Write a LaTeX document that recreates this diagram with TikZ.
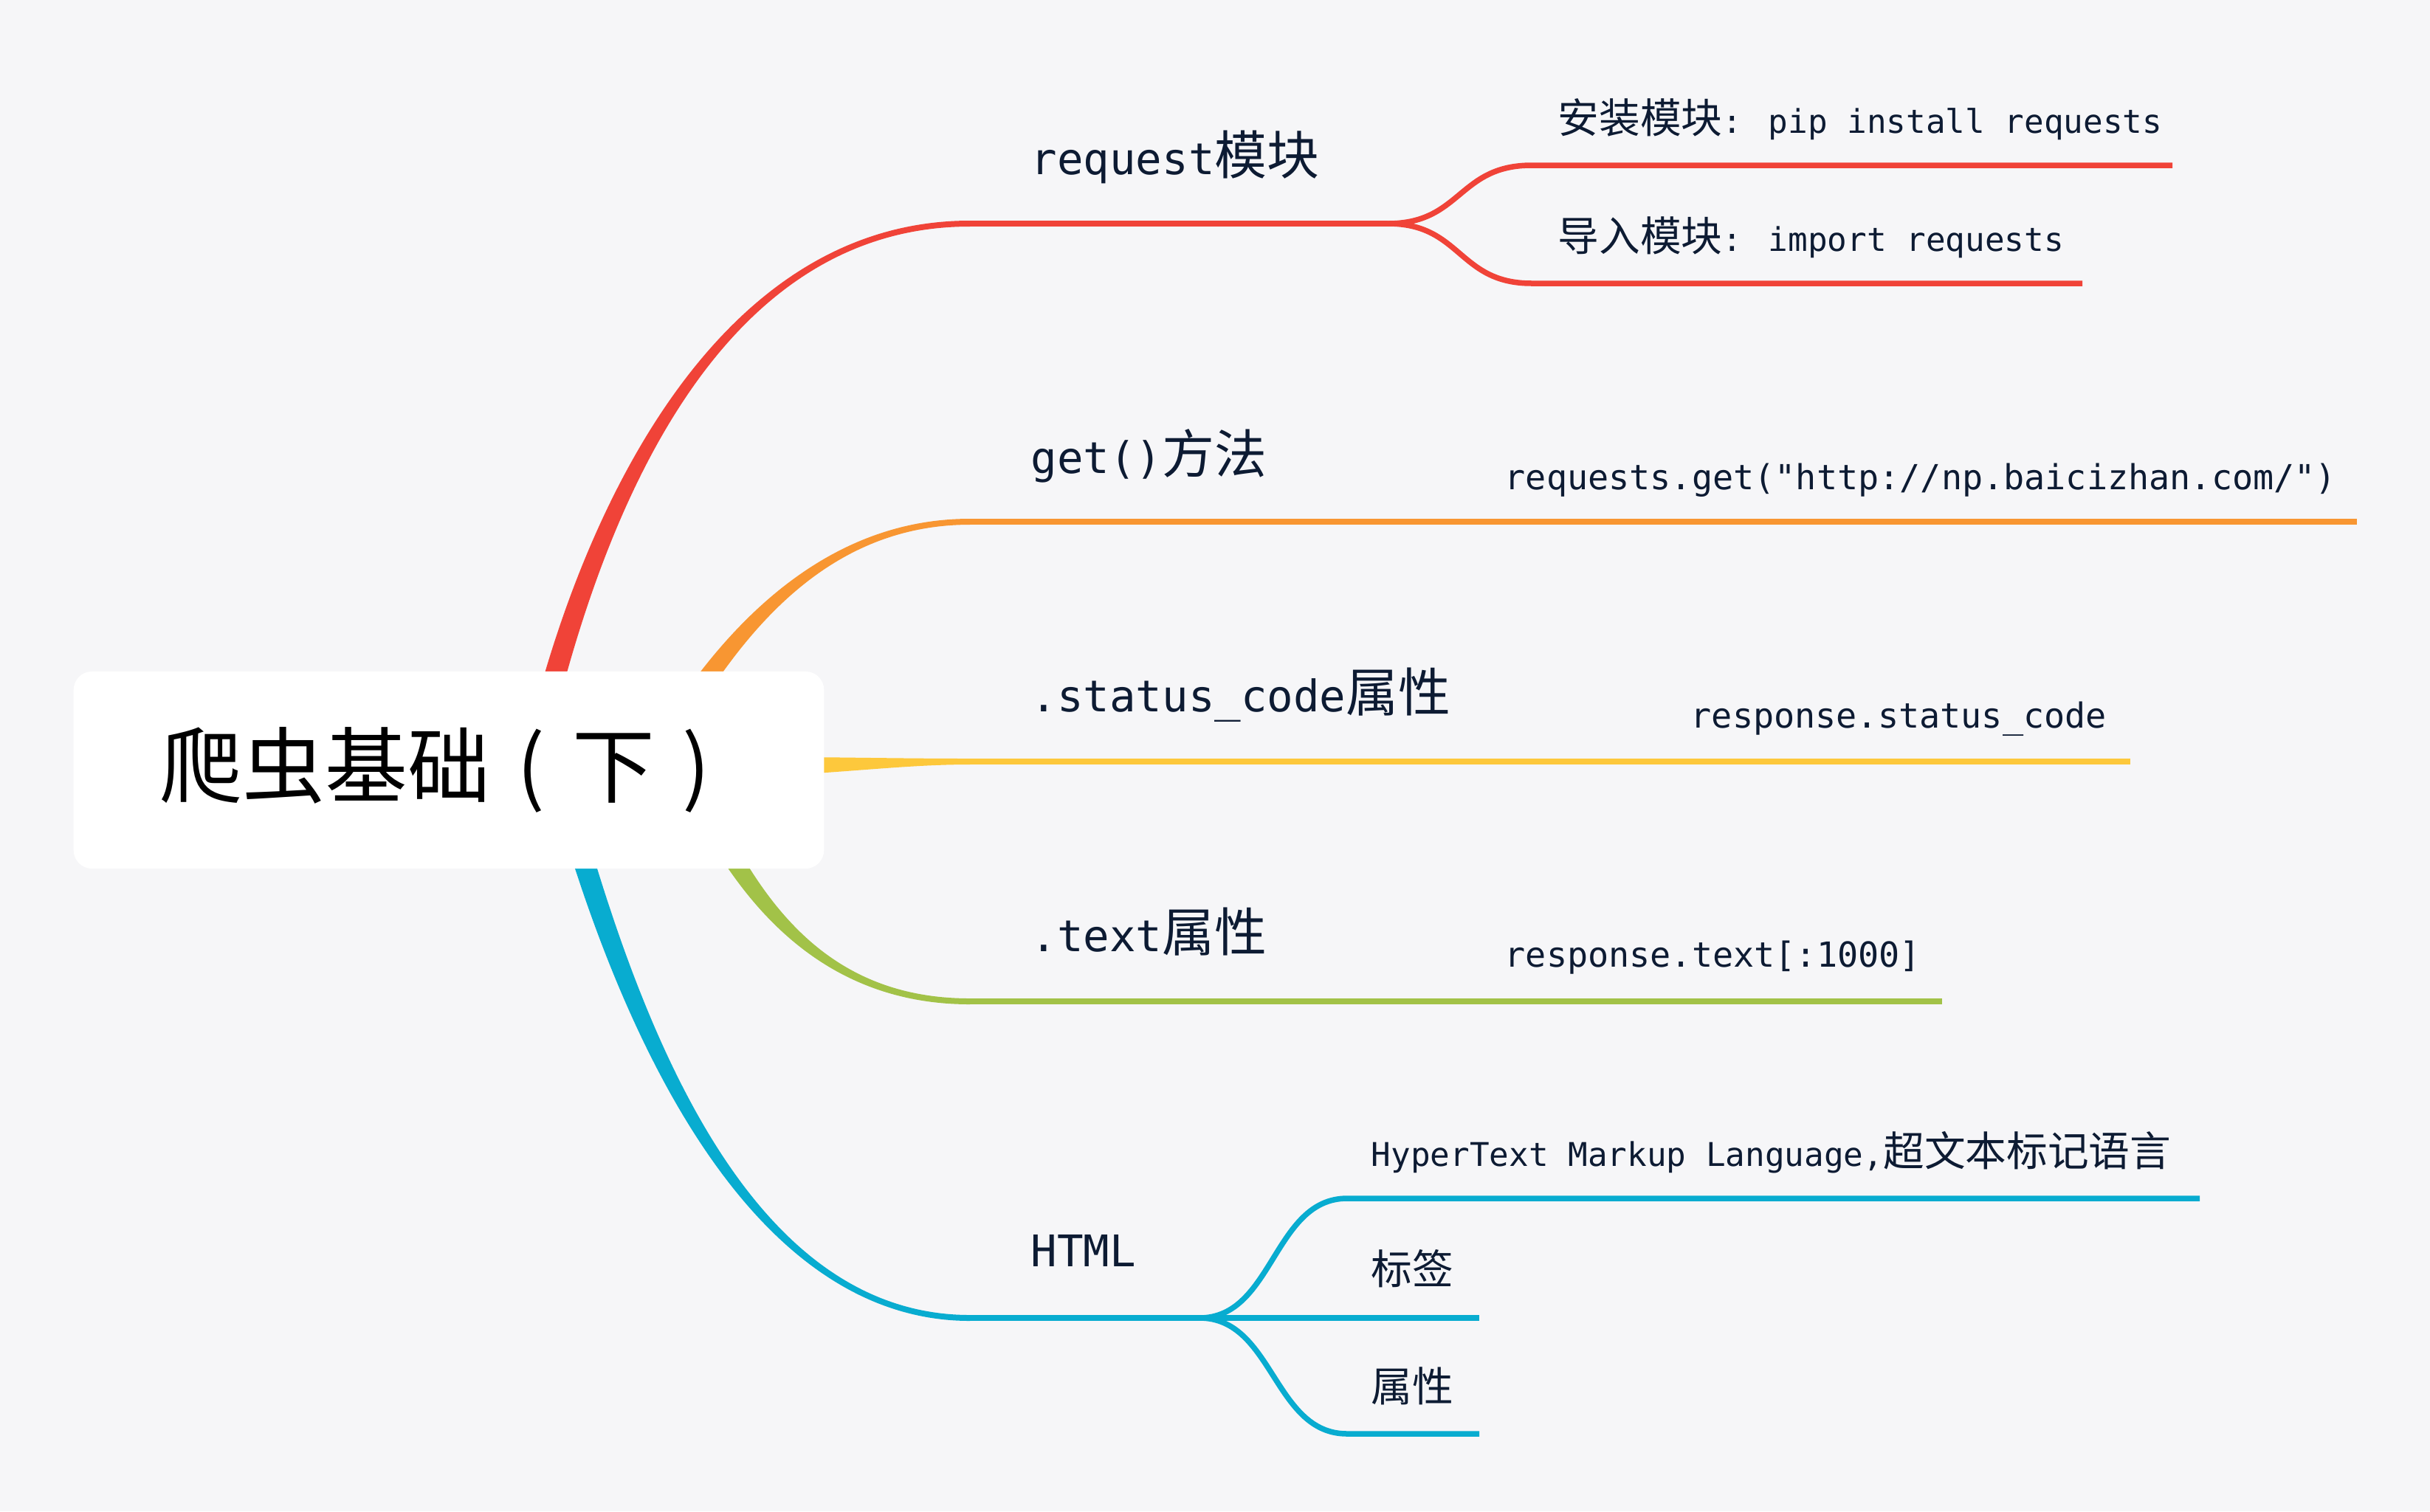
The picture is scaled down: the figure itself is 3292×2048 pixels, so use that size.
\documentclass[tikz,border=0pt]{standalone}
\usepackage{fontspec}
\setmainfont{DejaVu Sans Mono}
\newfontfamily\cjk[Scale=1.2]{Noto Sans CJK SC}
\usetikzlibrary{calc}

\definecolor{bg}{RGB}{246,246,248}
\definecolor{ink}{RGB}{13,27,51}
\definecolor{cred}{RGB}{240,67,56}
\definecolor{corange}{RGB}{248,150,50}
\definecolor{cyellow}{RGB}{253,200,60}
\definecolor{cgreen}{RGB}{162,194,72}
\definecolor{cblue}{RGB}{8,172,208}

% chinese text in the leaves
\newcommand{\zh}[1]{{\cjk\fontsize{13.2}{16}\selectfont #1}}

% tapered branch: colour, root, control, control, end
\newcommand{\limb}[5]{%
  \coordinate (l0) at ($(#2)!1.5mm!90:(#3)$);
  \coordinate (r0) at ($(#2)!1.5mm!-90:(#3)$);
  \fill[#1] (l0) .. controls ($(#3)+(l0)-(#2)$) and ($(#4)+(0,-4)$) .. ($(#5)+(0,-4)$)
    -- ($(#5)+(0,4)$) .. controls ($(#4)+(0,4)$) and ($(#3)+(r0)-(#2)$) .. (r0) -- cycle;}

\begin{document}
\begin{tikzpicture}[x=0.01cm, y=-0.01cm,
  stem/.style={line width=0.8mm},
  twig/.style={line width=0.75mm},
  topic/.style={anchor=base west, inner sep=0pt, text=ink, font=\fontsize{16.8}{20}\selectfont},
  leaf/.style={anchor=base west, inner sep=0pt, text=ink, font=\fontsize{12.6}{16}\selectfont},
  code/.style={leaf, font=\fontsize{13.3}{16}\selectfont}]
  \fill[bg] (0,0) rectangle (3292,2048);
  \useasboundingbox (0,0) rectangle (3292,2048);

  \coordinate (r1) at (720,1043);
  \coordinate (r1a) at (790,720);
  \coordinate (r1b) at (960,303);
  \coordinate (req0) at (1314,303);
  \coordinate (req1) at (1880,303);
  \coordinate (inst0) at (2075,224);
  \coordinate (inst1) at (2943,224);
  \coordinate (imp0) at (2075,384);
  \coordinate (imp1) at (2821,384);

  \coordinate (r2) at (880,1043);
  \coordinate (r2a) at (960,900);
  \coordinate (r2b) at (1090,707);
  \coordinate (get0) at (1314,707);
  \coordinate (get1) at (3193,707);

  \coordinate (r3) at (900,1040);
  \coordinate (r3a) at (1100,1040);
  \coordinate (r3b) at (1200,1032);
  \coordinate (st0) at (1314,1032);
  \coordinate (st1) at (2886,1032);

  \coordinate (r4) at (930,1043);
  \coordinate (r4a) at (1000,1200);
  \coordinate (r4b) at (1100,1357);
  \coordinate (tx0) at (1314,1357);
  \coordinate (tx1) at (2631,1357);

  \coordinate (r5) at (755,1043);
  \coordinate (r5a) at (840,1360);
  \coordinate (r5b) at (1000,1786);
  \coordinate (ht0) at (1314,1786);
  \coordinate (ht1) at (1625,1786);
  \coordinate (hy0) at (1825,1624);
  \coordinate (hy1) at (2980,1624);
  \coordinate (tag1) at (2004,1786);
  \coordinate (attr0) at (1825,1943);
  \coordinate (attr1) at (2004,1943);

  \limb{cred}{r1}{r1a}{r1b}{req0}
  \draw[cred, stem] (req0) -- (req1);
  \draw[cred, twig] (req1) .. controls +(100,0) and +(-100,0) .. (inst0) -- (inst1);
  \draw[cred, twig] (req1) .. controls +(100,0) and +(-100,0) .. (imp0) -- (imp1);

  \limb{corange}{r2}{r2a}{r2b}{get0}
  \draw[corange, stem] (get0) -- (get1);

  \limb{cyellow}{r3}{r3a}{r3b}{st0}
  \draw[cyellow, stem] (st0) -- (st1);

  \limb{cgreen}{r4}{r4a}{r4b}{tx0}
  \draw[cgreen, stem] (tx0) -- (tx1);

  \limb{cblue}{r5}{r5a}{r5b}{ht0}
  \draw[cblue, stem] (ht0) -- (tag1);
  \draw[cblue, twig] (ht1) .. controls +(100,0) and +(-100,0) .. (hy0) -- (hy1);
  \draw[cblue, twig] (ht1) .. controls +(100,0) and +(-100,0) .. (attr0) -- (attr1);

  \node[fill=white, rounded corners=0.25cm, minimum width=10.16cm, minimum height=2.67cm,
    inner sep=0pt, font=\cjk\fontsize{26.5}{30}\selectfont] (root) at (608,1043.5)
    {爬虫基础\makebox[1em]{(}下\makebox[1em]{)}};

  \node[topic] (req) at (1396,236) {request{\cjk 模块}};
  \node[topic] (get) at (1396,641) {get(){\cjk 方法}};
  \node[topic] (st) at (1396,964) {.status\_code{\cjk 属性}};
  \node[topic] (tx) at (1396,1289) {.text{\cjk 属性}};
  \node[topic] (ht) at (1396,1716) {HTML};

  \node[leaf] (inst) at (2110,180) {\zh{安装模块}: pip install requests};
  \node[leaf] (imp) at (2110,340) {\zh{导入模块}: import requests};
  \node[code] (getx) at (2038,663) {requests.get(\textquotedbl http://np.baicizhan.com/\textquotedbl)};
  \node[code] (stx) at (2290,986) {response.status\_code};
  \node[code] (txx) at (2038,1310) {response.text[:1000]};
  \node[leaf] (hy) at (1857,1580) {HyperText Markup Language,\zh{超文本标记语言}};
  \node[leaf] (tag) at (1857,1740) {\zh{标签}};
  \node[leaf] (attr) at (1857,1899) {\zh{属性}};
\end{tikzpicture}
\end{document}
